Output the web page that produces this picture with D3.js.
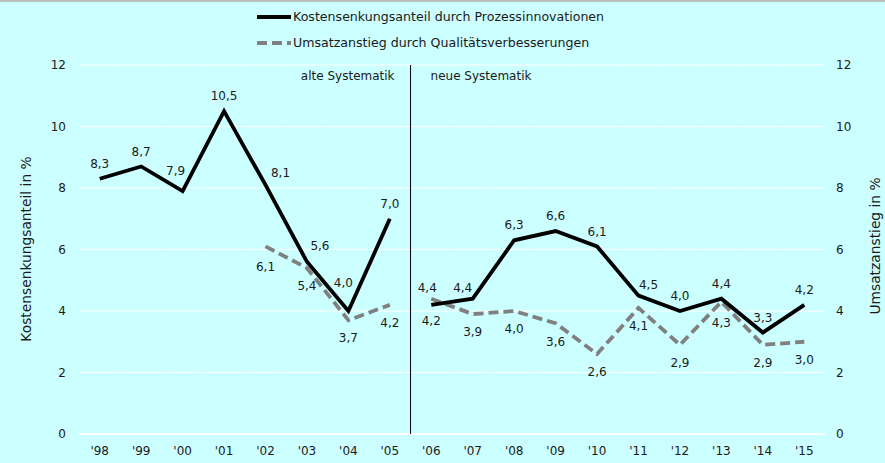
<!DOCTYPE html>
<html>
<head>
<meta charset="utf-8">
<style>
  body { margin: 0; padding: 0; overflow: hidden; background: #ccffff; }
  text { font-family: "DejaVu Sans", Verdana, sans-serif; fill: #1a1a1a; }
</style>
</head>
<body>
<script src="https://cdn.jsdelivr.net/npm/d3@7/dist/d3.min.js"></script>
<script>

    const years = ["'98","'99","'00","'01","'02","'03","'04","'05","'06","'07","'08","'09","'10","'11","'12","'13","'14","'15"]
    // Kostensenkungsanteil durch Prozessinnovationen
    const kosten = [8.3, 8.7, 7.9, 10.5, 8.1, 5.6, 4.0, 7.0, 4.2, 4.4, 6.3, 6.6, 6.1, 4.5, 4.0, 4.4, 3.3, 4.2]
    // Umsatzanstieg durch Qualitätsverbesserungen
    const umsatz = [null, null, null, null, 6.1, 5.4, 3.7, 4.2, 4.4, 3.9, 4.0, 3.6, 2.6, 4.1, 2.9, 4.3, 2.9, 3.0]
    const yTicks = [0, 2, 4, 6, 8, 10, 12]
    const firstNew = "'06"   // ab hier neue Systematik

    const width = 885, height = 463;

    // a few labels sit off their default spot (above for black, below for grey)
    const kostenLabelShift = { "'00": [-7, -20], "'02": [15, -12], "'03": [13, -16], "'04": [-5, -28], "'06": [0, 16], "'07": [-10, -11], "'11": [10, -11] }
    const umsatzLabelShift = { "'02": [0, 20], "'06": [-4, -11], "'13": [0, 21] }

    const svg = d3.select("body").append("svg")
      .attr("width", width)
      .attr("height", height);

    svg.append("rect").attr("width", width).attr("height", height).attr("fill", "#ccffff");
    svg.append("rect").attr("width", width).attr("height", 2).attr("fill", "#bfbfbf");

    const x = d3.scaleBand().domain(years).range([79, 825]).paddingInner(0).paddingOuter(0);
    const y = d3.scaleLinear().domain([0, 12]).range([434, 65]);
    const bw = x.bandwidth();
    const cx = d => x(d) + bw / 2;

    // gridlines
    svg.append("g").selectAll("line")
      .data(yTicks.filter(t => t > 0))
      .enter().append("line")
      .attr("x1", x.range()[0]).attr("x2", x.range()[1])
      .attr("y1", d => y(d)).attr("y2", d => y(d))
      .attr("stroke", "#ffffff").attr("stroke-width", 1)
      .attr("stroke-dasharray", (bw - 1.5) + ",1.5");

    svg.append("line")
      .attr("x1", x.range()[0]).attr("x2", x.range()[1])
      .attr("y1", y(0)).attr("y2", y(0))
      .attr("stroke", "#ffffff").attr("stroke-width", 2);

    // left and right axes
    const yAxisL = svg.append("g").attr("transform", "translate(66,0)")
      .call(d3.axisLeft(y).tickValues(yTicks).tickSize(0).tickPadding(0));
    const yAxisR = svg.append("g").attr("transform", "translate(836,0)")
      .call(d3.axisRight(y).tickValues(yTicks).tickSize(0).tickPadding(0));
    const xAxis = svg.append("g").attr("transform", "translate(0,446)")
      .call(d3.axisBottom(x).tickSize(0).tickPadding(0));
    [yAxisL, yAxisR, xAxis].forEach(g => {
      g.select(".domain").remove();
      g.selectAll("text").style("font-family", '"DejaVu Sans", Verdana, sans-serif').style("font-size", "12px").attr("fill", "#1a1a1a");
    });

    // axis titles
    svg.append("text")
      .attr("transform", "translate(31,249) rotate(-90)")
      .attr("text-anchor", "middle").attr("font-size", "13.8px")
      .text("Kostensenkungsanteil in %");
    svg.append("text")
      .attr("transform", "translate(880,246) rotate(-90)")
      .attr("text-anchor", "middle").attr("font-size", "13.8px")
      .text("Umsatzanstieg in %");

    // divider between the two systems
    const divX = x(firstNew);
    svg.append("line")
      .attr("x1", divX).attr("x2", divX)
      .attr("y1", y(12)).attr("y2", y(0))
      .attr("stroke", "#000").attr("stroke-width", 1);
    svg.append("text").attr("x", divX - 16).attr("y", 80)
      .attr("text-anchor", "end").attr("font-size", "12px").text("alte Systematik");
    svg.append("text").attr("x", divX + 20).attr("y", 80)
      .attr("text-anchor", "start").attr("font-size", "12px").text("neue Systematik");

    const newIdx = years.indexOf(firstNew);
    const line = d3.line()
      .defined(d => d.v != null)
      .x(d => cx(d.year))
      .y(d => y(d.v));

    function drawSeries(values, stroke, dash) {
      const pts = years.map((yr, i) => ({ year: yr, v: values[i], i: i }));
      [pts.slice(0, newIdx), pts.slice(newIdx)].forEach(seg => {
        svg.append("path")
          .datum(seg)
          .attr("d", line)
          .attr("fill", "none")
          .attr("stroke", stroke)
          .attr("stroke-width", 3.8)
          .attr("stroke-linejoin", "miter")
          .attr("stroke-dasharray", dash);
      });
      return pts.filter(d => d.v != null);
    }

    const umsatzPts = drawSeries(umsatz, "#808080", "10,5");
    const kostenPts = drawSeries(kosten, "#000000", null);

    const fmt = v => v.toFixed(1).replace(".", ",");

    function labels(pts, defaultDy, shift) {
      svg.append("g").selectAll("text")
        .data(pts)
        .enter().append("text")
        .attr("x", d => cx(d.year) + (shift[d.year] ? shift[d.year][0] : 0))
        .attr("y", d => y(d.v) + (shift[d.year] ? shift[d.year][1] : defaultDy))
        .attr("dy", "0.35em")
        .attr("text-anchor", "middle")
        .attr("font-size", "12px")
        .text(d => fmt(d.v));
    }
    labels(kostenPts, -15, kostenLabelShift);
    labels(umsatzPts, 18, umsatzLabelShift);

    // legend
    const legend = svg.append("g");
    legend.append("line").attr("x1", 257).attr("x2", 291).attr("y1", 17).attr("y2", 17)
      .attr("stroke", "#000").attr("stroke-width", 3.8);
    legend.append("text").attr("x", 293).attr("y", 17).attr("dy", "0.35em")
      .attr("font-size", "12.6px").text("Kostensenkungsanteil durch Prozessinnovationen");
    legend.append("line").attr("x1", 257).attr("x2", 291).attr("y1", 43).attr("y2", 43)
      .attr("stroke", "#808080").attr("stroke-width", 3.8).attr("stroke-dasharray", "10,5");
    legend.append("text").attr("x", 293).attr("y", 43).attr("dy", "0.35em")
      .attr("font-size", "12.6px").text("Umsatzanstieg durch Qualitätsverbesserungen");
</script>
</body>
</html>
